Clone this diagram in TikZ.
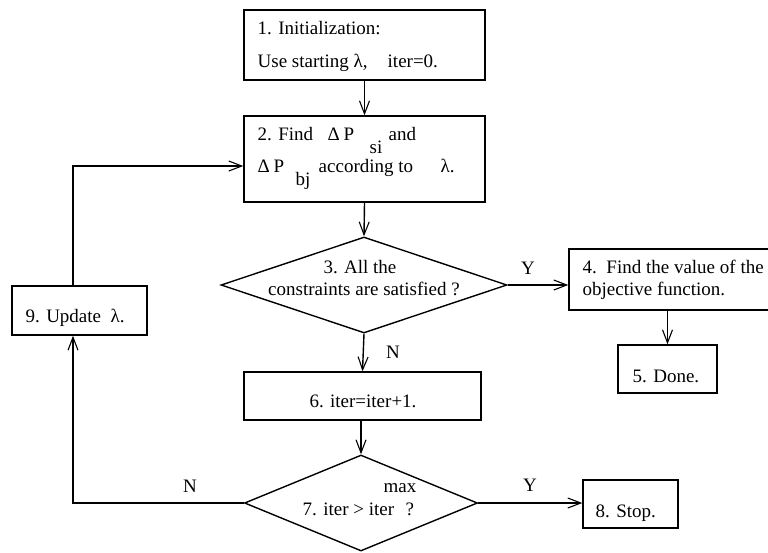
\documentclass[tikz,border=0pt]{standalone}
\usepackage{fontspec}
\setmainfont{Liberation Serif}
\usetikzlibrary{arrows.meta,shapes.geometric}
\begin{document}
\begin{tikzpicture}[x=1pt,y=-1pt,
  font=\fontsize{19}{22}\selectfont,
  line width=1.4pt,
  box/.style={draw,rectangle,inner sep=0pt},
  decision/.style={draw,diamond,inner sep=0pt},
  txt/.style={anchor=base west,inner sep=0pt},
  lbl/.style={anchor=center,inner sep=0pt},
  arr/.style={-{Straight Barb[length=13pt,width=10pt,line width=1.1pt]}}]
\useasboundingbox (0,0) rectangle (768,552);

% process boxes and decisions
\node[box,minimum width=241pt,minimum height=70pt] (b1) at (364.5,45) {};
\node[box,minimum width=241pt,minimum height=86pt] (b2) at (364.5,159) {};
\node[decision,minimum width=286pt,minimum height=96pt] (d3) at (364,285) {};
\node[box,minimum width=216pt,minimum height=61pt] (b4) at (677,279.5) {};
\node[box,minimum width=99pt,minimum height=48pt] (b5) at (667.5,369) {};
\node[box,minimum width=237pt,minimum height=48pt] (b6) at (362.5,396) {};
\node[decision,minimum width=233pt,minimum height=96pt] (d7) at (361,503) {};
\node[box,minimum width=95pt,minimum height=48pt] (b8) at (630.5,504) {};
\node[box,minimum width=135pt,minimum height=49pt] (b9) at (79.5,310.5) {};
\coordinate (loopx) at (73,0);
\coordinate (loopy) at (0,166);

% texts
\node[txt] (t1a) at (257,34) {1. Initialization:};
\node[txt] (t1b) at (257,67) {Use starting λ,};
\node[txt] (t1c) at (387,67) {iter=0.};

\node[txt] (t2a) at (257,140) {2. Find};
\node[txt] (t2b) at (327,140) {Δ};
\node[txt] (t2c) at (343,140) {P};
\node[txt] (t2d) at (369,153) {si};
\node[txt] (t2e) at (388,140) {and};
\node[txt] (t2f) at (257,172) {Δ};
\node[txt] (t2g) at (273,172) {P};
\node[txt] (t2h) at (295,185) {bj};
\node[txt] (t2i) at (318,172) {according to};
\node[txt] (t2j) at (440,172) {λ.};

\node[lbl,anchor=base] (t3a) at (360,273) {3. All the};
\node[lbl,anchor=base] (t3b) at (364,295) {constraints are satisfied ?};

\node[txt] (t4a) at (582,273) {4.\ \ Find the value of the};
\node[txt] (t4b) at (582,295) {objective function.};

\node[txt] (t5) at (632,382) {5. Done.};
\node[lbl,anchor=base] (t6) at (363,407) {6. iter=iter+1.};

\node[txt] (t7a) at (383,492) {max};
\node[txt] (t7b) at (302,515) {7. iter > iter};
\node[txt] (t7c) at (405,515) {?};

\node[txt] (t8) at (595,517) {8. Stop.};
\node[txt] (t9a) at (25,322) {9. Update};
\node[txt] (t9b) at (110,322) {λ.};

% branch labels
\node[lbl] (y3) at (528,268) {Y};
\node[lbl] (n3) at (393,352) {N};
\node[lbl] (y7) at (530,485) {Y};
\node[lbl] (n7) at (190,486) {N};

% connectors
\draw[arr] (b1.south) -- (b2.north);
\draw[arr] (b2.south) -- (d3.north);
\draw[arr] (d3.east) -- (d3.east -| b4.west);
\draw[arr] (b4.south -| b5.north) -- (b5.north);
\draw[arr] (d3.south) -- (b6.north);
\draw[arr] (b6.south -| d7.north) -- (d7.north);
\draw[arr] (d7.east) -- (d7.east -| b8.west);
\draw[arr] (d7.west) -- (d7.west -| loopx) -- (loopx |- b9.south);
\draw[arr] (loopx |- b9.north) -- (loopx |- loopy) -- (loopy -| b2.west);
\end{tikzpicture}
\end{document}
